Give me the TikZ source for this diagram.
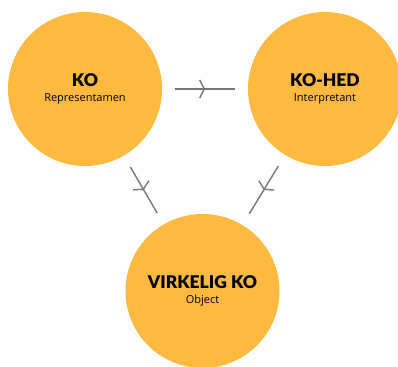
\documentclass[tikz,border=0pt]{standalone}
\usepackage{fontspec}
\setmainfont{Open Sans}
\newfontfamily\heavyfont{Lato Black}
\usepackage{tikz}
\usetikzlibrary{arrows.meta,decorations.markings}
\definecolor{SignOrange}{HTML}{FDB940}
\definecolor{LinkGray}{HTML}{777777}

\begin{document}
\begin{tikzpicture}[x=1pt,y=-1pt,
  sign/.style={circle,fill=SignOrange,minimum size=154pt,inner sep=0pt,align=center,font=\fontsize{11}{15}\selectfont},
  link/.style={LinkGray,line width=1.4pt,shorten <=13pt,shorten >=13pt,postaction={decorate},
    decoration={markings,mark=at position 0.5 with {\arrow{Straight Barb[length=4.5pt,width=18pt,line width=1.4pt]}}}}
]
\useasboundingbox (0,0) rectangle (398,366);
\node[sign] (KO) at (85,89) {{\heavyfont\fontsize{17.5}{15}\selectfont KO}\\Representamen};
\node[sign] (KOHED) at (325,89) {{\heavyfont\fontsize{17.5}{15}\selectfont KO-HED}\\Interpretant};
\node[sign] (VIRK) at (202.5,291) {{\heavyfont\fontsize{17.5}{15}\selectfont VIRKELIG KO}\\Object};
\draw[link] (KO) -- (KOHED);
\draw[link] (KO) -- (VIRK);
\draw[link] (KOHED) -- (VIRK);
\end{tikzpicture}
\end{document}
